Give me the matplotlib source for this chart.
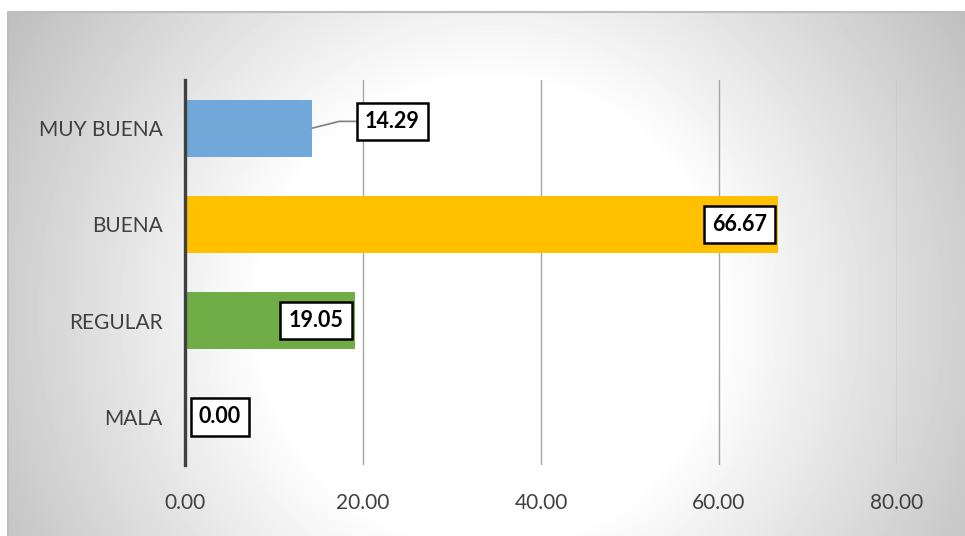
import numpy as np
from matplotlib import pyplot as plt

# --- data ---
categories = ["MALA", "REGULAR", "BUENA", "MUY BUENA"]
values = [0.00, 19.05, 66.67, 14.29]
bar_colors = ["#5B9BD5", "#70AD47", "#FFC000", "#70A8DA"]
x_ticks = [0, 20, 40, 60, 80]

plt.rcParams["font.family"] = ["Lato", "DejaVu Sans"]

fig = plt.figure(figsize=(9.65, 5.36), dpi=100)

# radial grey background panel
bg = fig.add_axes([8 / 965, 0, 957 / 965, 524 / 536])
bg.set_axis_off()
h, w = 524, 957
yy, xx = np.mgrid[0:h, 0:w]
d = np.hypot(xx - 482, yy - 300)
shade = 1 - 0.25 * np.clip((d - 230) / 330, 0, 1)
bg.imshow(shade, cmap="gray", vmin=0, vmax=1, aspect="auto",
          extent=[0, 1, 0, 1], interpolation="bilinear")
bg.set_xlim(0, 1)
bg.set_ylim(0, 1)
bg.plot([0, 0, 1], [0, 1, 1], color="#BDBDBD", lw=1.5, clip_on=False)

ax = fig.add_axes([185 / 965, 1 - 465 / 536, 712 / 965, 385 / 536])
ax.patch.set_alpha(0)

ypos = np.arange(len(categories))
bars = ax.barh(ypos, values, height=0.59, color=bar_colors, zorder=3)

ax.set_xlim(0, 80)
ax.set_ylim(-0.5, 3.5)
ax.set_xticks(x_ticks)
ax.set_xticklabels([f"{t:.2f}" for t in x_ticks])
ax.set_yticks(ypos)
ax.set_yticklabels(categories)
ax.tick_params(length=0, labelsize=15, colors="#404040")
ax.tick_params(axis="x", pad=20)
ax.tick_params(axis="y", pad=16)
ax.grid(axis="x", color="#A6A6A6", lw=1, zorder=0)
for s in ["top", "right", "bottom"]:
    ax.spines[s].set_visible(False)
ax.spines["left"].set_color("#404040")
ax.spines["left"].set_linewidth(2.4)
ax.spines["left"].set_zorder(4)

box = dict(boxstyle="square,pad=0.38", fc="white", ec="black", lw=1.8)
lab_kw = dict(fontsize=15.5, fontweight="bold", color="black", bbox=box, zorder=5)

# MALA: zero bar, label sits just right of the axis
ax.annotate(f"{values[0]:.2f}", (values[0], 0), xytext=(10, 0),
            textcoords="offset points", ha="left", va="center", **lab_kw)
# REGULAR and BUENA: labels inside the bar end
for i in (1, 2):
    ax.annotate(f"{values[i]:.2f}", (values[i], i), xytext=(-8, 0),
                textcoords="offset points", ha="right", va="center", **lab_kw)
# MUY BUENA: label pulled out with a leader line
ax.annotate(f"{values[3]:.2f}", (values[3], 3), xytext=(values[3] + 9.0, 3.07),
            textcoords="data", ha="center", va="center",
            arrowprops=dict(arrowstyle="-", color="#7F7F7F", lw=1.2,
                            shrinkA=0, shrinkB=0,
                            connectionstyle="angle,angleA=180,angleB=14,rad=0"),
            **lab_kw)

fig.savefig("out.png", dpi=100)
